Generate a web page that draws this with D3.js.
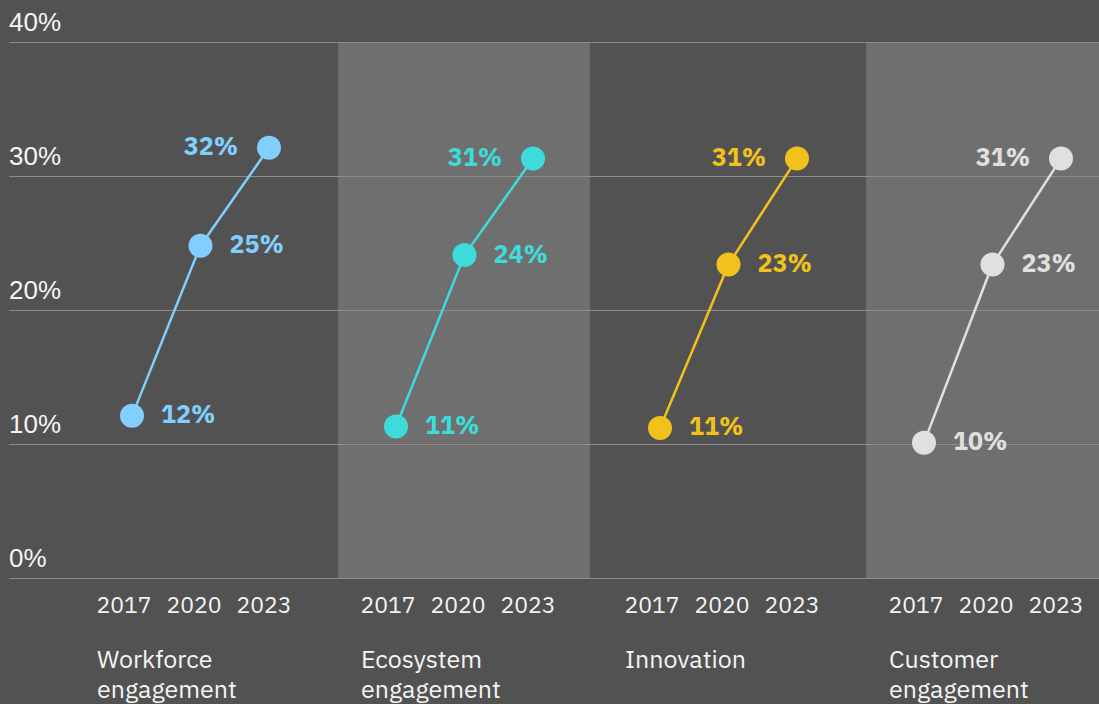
<html>
<head>
<meta charset="utf-8">
<style>
  body { margin: 0; background: #525252; }
  svg { display: block; font-family: "IBM Plex Sans", Inter, sans-serif; }
  .grid line { stroke: #8d8d8d; stroke-width: 1.2; }
  .grid path { display: none; }
  .grid text { fill: #f4f4f4; font-size: 26px; }
  .year { fill: #f4f4f4; font-size: 23px; }
  .cat { fill: #f4f4f4; font-size: 25px; }
  .val { font-size: 25px; font-weight: 700; }
</style>
</head>
<body>
<svg width="1099" height="704"></svg>
<script src="https://d3js.org/d3.v7.min.js"></script>
<script>
  // data
  var groups = ["Workforce engagement", "Ecosystem engagement", "Innovation", "Customer engagement"];
  var years = ["2017", "2020", "2023"];
  var workforce = [12.1, 24.8, 32.1];
  var ecosystem = [11.3, 24.1, 31.3];
  var innovation = [11.2, 23.4, 31.3];
  var customer = [10.1, 23.4, 31.3];
  var colors = ["#82cfff", "#3ddbd9", "#f1c21b", "#e0e0e0"];
  var yTicks = [0, 10, 20, 30, 40];

  var series = [workforce, ecosystem, innovation, customer];

  var svg = d3.select("svg");
  svg.append("rect").attr("width", 1099).attr("height", 704).attr("fill", "#525252");

  var y = d3.scaleLinear().domain([0, 40]).range([578, 42]);
  var x0 = d3.scaleBand().domain(groups).range([97, 97 + 264 * 4]);
  var xp = d3.scalePoint().domain(years).range([35, 172]);
  var xl = d3.scalePoint().domain(years).range([27, 167]);

  // shaded panels behind every second group
  svg.selectAll(".panel")
    .data(groups.filter(function(d, i) { return i % 2 == 1; }))
    .enter().append("rect")
    .attr("class", "panel")
    .attr("x", function(d) { return x0(d) - 23; })
    .attr("y", y(40))
    .attr("width", 252)
    .attr("height", y(0) - y(40))
    .attr("fill", "#6f6f6f");

  // gridlines + y labels
  var grid = svg.append("g")
    .attr("class", "grid")
    .attr("transform", "translate(9,0)")
    .call(d3.axisRight(y).tickValues(yTicks).tickSize(1090).tickFormat(function(d) { return d + "%"; }));
  grid.selectAll("text")
    .attr("x", 0)
    .attr("dy", -12)
    .attr("text-anchor", "start");

  var line = d3.line()
    .x(function(d, i) { return xp(years[i]); })
    .y(function(d) { return y(d); });

  var g = svg.selectAll(".group")
    .data(groups)
    .enter().append("g")
    .attr("class", "group")
    .attr("transform", function(d) { return "translate(" + x0(d) + ",0)"; });

  g.each(function(name, gi) {
    var el = d3.select(this);
    var vals = series[gi];
    var col = colors[gi];

    el.append("path")
      .attr("d", line(vals))
      .attr("fill", "none")
      .attr("stroke", col)
      .attr("stroke-width", 2.5);

    el.selectAll("circle")
      .data(vals)
      .enter().append("circle")
      .attr("cx", function(d, i) { return xp(years[i]); })
      .attr("cy", function(d) { return y(d); })
      .attr("r", 12)
      .attr("fill", col);

    el.selectAll(".val")
      .data(vals)
      .enter().append("text")
      .attr("class", "val")
      .attr("fill", col)
      .attr("x", function(d, i) { return i < 2 ? xp(years[i]) + 29 : xp(years[i]) - 31; })
      .attr("y", function(d) { return y(d); })
      .attr("dy", "0.3em")
      .attr("text-anchor", function(d, i) { return i < 2 ? "start" : "end"; })
      .text(function(d) { return Math.round(d) + "%"; });

    el.selectAll(".year")
      .data(years)
      .enter().append("text")
      .attr("class", "year")
      .attr("x", function(d) { return xl(d); })
      .attr("y", 613)
      .attr("text-anchor", "middle")
      .text(function(d) { return d; });

    var words = name.split(" ");
    el.selectAll(".cat")
      .data(words)
      .enter().append("text")
      .attr("class", "cat")
      .attr("x", 0)
      .attr("y", function(d, i) { return 668 + i * 30; })
      .text(function(d) { return d; });
  });
</script>
</body>
</html>
